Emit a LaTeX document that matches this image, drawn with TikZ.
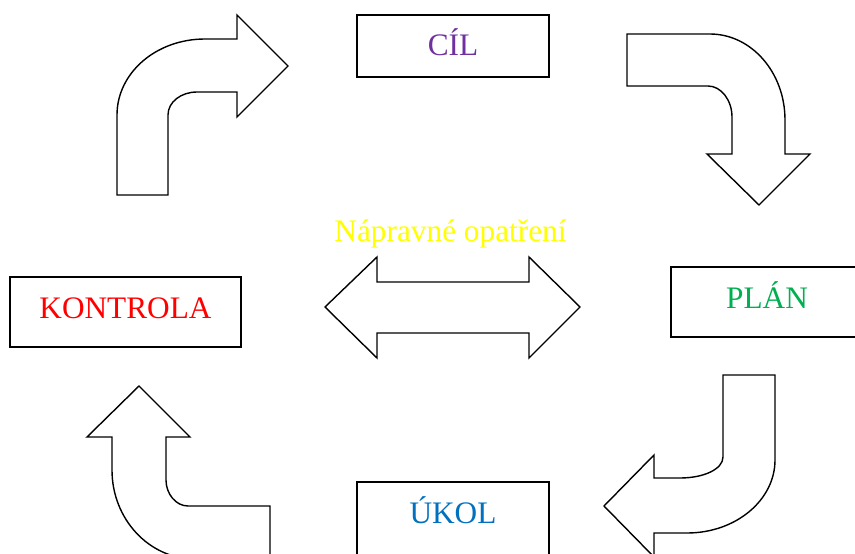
\documentclass[tikz,border=0pt]{standalone}
\usepackage{fontspec}
\setmainfont{Liberation Serif}

\definecolor{cyklpurple}{RGB}{112, 48, 160}
\definecolor{cyklgreen}{RGB}{0, 176, 80}
\definecolor{cyklred}{RGB}{255, 0, 0}
\definecolor{cyklblue}{RGB}{0, 112, 192}
\definecolor{cyklyellow}{RGB}{255, 255, 0}

\begin{document}
\begin{tikzpicture}[x=1pt, y=-1pt,
    box/.style={draw, line width=1.6pt, minimum width=192pt, minimum height=70pt,
      inner sep=0pt, text height=21pt, text depth=9pt,
      font=\fontsize{31.3}{37}\selectfont},
    blockarrow/.style={draw, line width=1.4pt, line join=miter, fill=white}]
        % frame of the page
        \useasboundingbox (0,0) rectangle (855,554);
        \clip (0,0) rectangle (855,554);

        % the four steps and the check
        \node[box, minimum height=62pt, text depth=2pt, text=cyklpurple] (cil) at (453,46) {CÍL};
        \node[box, text=cyklgreen] (plan) at (767,302) {PLÁN};
        \node[box, minimum height=76pt, text depth=15pt, text=cyklblue] (ukol) at (453,520) {ÚKOL};
        \node[box, minimum width=231pt, text=cyklred] (kontrola) at (125.5,312) {KONTROLA};

        % corrective action in the middle
        \node[inner sep=0pt, text height=21pt, text depth=0pt, text=cyklyellow,
          font=\fontsize{31.3}{37}\selectfont] (naprava) at (450.5,231) {Nápravné opatření};
        \draw[blockarrow] (325,307) -- (377,257) -- (377,282) -- (529,282) -- (529,257)
          -- (580,307) -- (529,358) -- (529,333) -- (377,333) -- (377,358) -- cycle;

        % bent arrow: kontrola -> cil
        \draw[blockarrow] (117,195) -- (117,115) .. controls (117,73) and (156,39) .. (205,39)
          -- (237,39) -- (237,15) -- (288,66) -- (237,117) -- (237,92) -- (197,92)
          .. controls (181,92) and (168,102) .. (168,115) -- (168,195) -- cycle;
        % bent arrow: cil -> plan
        \draw[blockarrow] (627,34) -- (710,34) .. controls (751,34) and (785,72) .. (785,120)
          -- (785,154) -- (810,154) -- (759,205) -- (707,154) -- (732,154) -- (732,117)
          .. controls (732,100) and (721,86) .. (708,86) -- (627,86) -- cycle;
        % bent arrow: plan -> ukol
        \draw[blockarrow] (723,375) -- (775,375) -- (775,460) .. controls (775,500) and (736,533) .. (687,533)
          -- (654,533) -- (654,557) -- (604,506) -- (654,455) -- (654,478) -- (680,478)
          .. controls (704,478) and (723,469) .. (723,457) -- cycle;
        % bent arrow: ukol -> kontrola
        \draw[blockarrow] (270,559) -- (270,506) -- (188,506) .. controls (176,506) and (166,494) .. (166,480)
          -- (166,437) -- (190,437) -- (139,386) -- (87,437) -- (112,437) -- (112,470)
          .. controls (112,519) and (149,559) .. (195,559) -- cycle;
\end{tikzpicture}
\end{document}
